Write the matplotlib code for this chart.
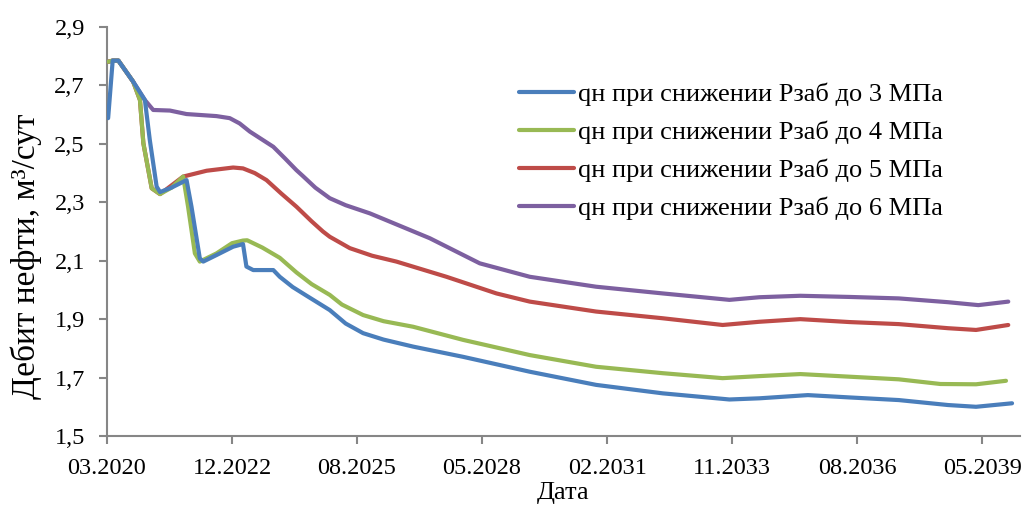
import matplotlib.pyplot as plt

plt.rcParams['font.family'] = ['Liberation Serif', 'DejaVu Serif']

# months since 03.2020
blue_m = [0.3, 1.5, 3, 6.9, 10, 11.3, 13.1, 14, 17, 21, 22.3, 24.5, 25.4, 29, 33.3, 35.9, 36.8, 38.6, 43.9,
          45.6, 49, 52.7, 58.8, 63, 67.6, 73, 80.8, 94, 111.6, 129.1, 146.7, 164.3, 172.2, 185, 196, 209, 222, 229.4, 238.9]
blue_v = [2.588, 2.785, 2.785, 2.713, 2.65, 2.513, 2.354, 2.335, 2.35, 2.376, 2.285, 2.108, 2.097, 2.12, 2.148, 2.157, 2.08, 2.068, 2.068,
          2.045, 2.01, 1.98, 1.931, 1.885, 1.852, 1.83, 1.806, 1.771, 1.72, 1.675, 1.646, 1.625, 1.629, 1.64, 1.632, 1.623, 1.606, 1.6, 1.612]

green_m = [0.3, 1.5, 3, 6.9, 8.7, 9.6, 11.8, 14, 17, 20.1, 21.4, 23.2, 24.5, 28.9, 33, 35.9, 37, 41, 45.6, 50,
           54, 58.8, 62, 67.6, 73, 80.8, 94, 111.6, 129.1, 146.7, 162.5, 172.2, 183, 196, 209, 220, 229.4, 237.3]
green_v = [2.781, 2.785, 2.785, 2.713, 2.65, 2.502, 2.348, 2.328, 2.35, 2.388, 2.285, 2.125, 2.097, 2.125, 2.16, 2.169, 2.17, 2.145, 2.11, 2.06,
           2.02, 1.983, 1.95, 1.914, 1.893, 1.874, 1.829, 1.777, 1.737, 1.715, 1.698, 1.705, 1.712, 1.703, 1.694, 1.678, 1.677, 1.689]

red_m = [0.3, 1.5, 3, 6.9, 8.7, 9.6, 11.8, 14, 20.1, 26.3, 33.3, 35.9, 39, 42.1, 46, 50, 54, 57, 58.8, 64.1, 70, 76.4, 89.6,
         102.8, 111.6, 129.1, 146.7, 162.5, 172.2, 183, 196, 209, 222, 229.4, 237.9]
red_v = [2.781, 2.785, 2.785, 2.713, 2.65, 2.502, 2.348, 2.328, 2.388, 2.408, 2.419, 2.416, 2.4, 2.376, 2.33, 2.285, 2.235, 2.2, 2.182, 2.143, 2.117, 2.097, 2.045,
         1.988, 1.96, 1.926, 1.903, 1.88, 1.891, 1.9, 1.89, 1.883, 1.869, 1.863, 1.88]

purple_m = [0.3, 1.5, 3, 6.9, 10, 12.2, 16.6, 21, 28.9, 32.4, 35, 37.7, 43.9, 47, 50, 51.7, 55, 58.8, 63, 69.4, 85.2, 98.4,
            111.6, 129.1, 146.7, 164.3, 172.2, 183, 196, 209, 222, 230, 237.9]
purple_v = [2.781, 2.785, 2.785, 2.713, 2.65, 2.616, 2.614, 2.602, 2.595, 2.588, 2.57, 2.542, 2.49, 2.45, 2.41, 2.39, 2.35, 2.314, 2.29, 2.262, 2.177, 2.091,
            2.045, 2.011, 1.988, 1.966, 1.975, 1.98, 1.976, 1.971, 1.958, 1.948, 1.96]

labels = ['qн при снижении Рзаб до 3 МПа', 'qн при снижении Рзаб до 4 МПа',
          'qн при снижении Рзаб до 5 МПа', 'qн при снижении Рзаб до 6 МПа']
tick_pos = [0, 33, 66, 99, 132, 165, 198, 231]
tick_lab = ['03.2020', '12.2022', '08.2025', '05.2028', '02.2031', '11.2033', '08.2036', '05.2039']
y_ticks = [1.5, 1.7, 1.9, 2.1, 2.3, 2.5, 2.7, 2.9]

fig = plt.figure(figsize=(10.29, 5.07), dpi=100)
ax = fig.add_axes([107/1029, 1-436/507, 913/1029, 409/507])

lw = 3.0
ax.plot(purple_m, purple_v, color='#7D60A0', lw=lw, solid_capstyle='round', label=labels[3], zorder=2)
ax.plot(red_m, red_v, color='#BE4B48', lw=lw, solid_capstyle='round', label=labels[2], zorder=3)
ax.plot(green_m, green_v, color='#98B954', lw=lw, solid_capstyle='round', label=labels[1], zorder=4)
ax.plot(blue_m, blue_v, color='#4A7EBB', lw=lw, solid_capstyle='round', label=labels[0], zorder=5)

ax.set_xlim(0, 241)
ax.set_ylim(1.5, 2.9)
ax.set_xticks(tick_pos)
ax.set_xticklabels(tick_lab)
ax.set_yticks(y_ticks)
ax.set_yticklabels([f'{v:.1f}'.replace('.', ',') for v in y_ticks])

for s in ['top', 'right']:
    ax.spines[s].set_visible(False)
for s in ['left', 'bottom']:
    ax.spines[s].set_color('#868686')
    ax.spines[s].set_linewidth(1.5)
ax.tick_params(axis='both', colors='#868686', width=1.5, length=6, labelsize=17.5, labelcolor='black')
ax.tick_params(axis='x', pad=10)
ax.tick_params(axis='y', pad=10)

ax.set_xlabel('Дата', fontsize=19, labelpad=2)
fig.text(26/1029, 1-256/507, 'Дебит нефти, м³/сут', fontsize=24, rotation=90,
         ha='center', va='center')

h, l = ax.get_legend_handles_labels()
order = [3, 2, 1, 0]
ax.legend([h[i] for i in order], [l[i] for i in order], loc='upper left',
          bbox_to_anchor=(519/1029, 1-83/507), bbox_transform=fig.transFigure,
          frameon=False, fontsize=19, handlelength=2.1, handletextpad=0.12,
          labelspacing=0.54, borderpad=0, borderaxespad=0)

fig.savefig('out.png', dpi=100)
